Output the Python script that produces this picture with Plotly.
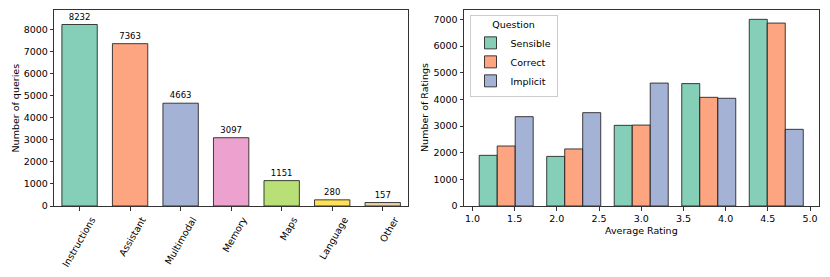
import plotly.graph_objects as go

# ---- data ----
categories = ["Instructions", "Assistant", "Multimodal", "Memory", "Maps", "Language", "Other"]
query_counts = [8232, 7363, 4663, 3097, 1151, 280, 157]

bin_edges = [1.0, 1.8, 2.6, 3.4, 4.2, 5.0]
series_names = ["Sensible", "Correct", "Implicit"]
sensible = [1900, 1860, 3025, 4590, 7000]
correct = [2250, 2140, 3035, 4075, 6860]
implicit = [3350, 3500, 4610, 4040, 2875]

set2 = ["#66c2a5", "#fc8d62", "#8da0cb", "#e78ac3", "#a6d854", "#ffd92f", "#e5c494", "#b3b3b3"]


def rgba(hexc, a=0.8):
    h = hexc.lstrip("#")
    r, g, b = int(h[0:2], 16), int(h[2:4], 16), int(h[4:6], 16)
    return f"rgba({r},{g},{b},{a})"


W, H = 830, 277
OFF = 8  # page body margin


def PX(px):
    return (px - OFF) / W


def PY(py):
    return (H - (py - OFF)) / H


FONT = "DejaVu Sans"
EDGE = "rgba(30,30,30,0.85)"
AX = "#333333"

fig = go.Figure()

# left chart
fig.add_trace(go.Bar(
    x=list(range(len(categories))), y=query_counts,
    width=0.7,
    marker=dict(color=[rgba(set2[i]) for i in range(len(categories))],
                line=dict(color=EDGE, width=1)),
    text=[str(v) for v in query_counts], textposition="outside",
    textfont=dict(size=8.5, color="black", family=FONT),
    cliponaxis=False, showlegend=False,
    xaxis="x", yaxis="y",
))

# right chart: dodged histogram
centers = [(bin_edges[i] + bin_edges[i + 1]) / 2 for i in range(len(bin_edges) - 1)]
bw = bin_edges[1] - bin_edges[0]
shrink = 0.8
sub_w = bw * shrink / len(series_names)
for k, (name, vals) in enumerate(zip(series_names, [sensible, correct, implicit])):
    fig.add_trace(go.Bar(
        x=centers, y=vals, name=name,
        width=sub_w, offset=-bw * shrink / 2 + k * sub_w,
        marker=dict(color=rgba(set2[k]), line=dict(color=EDGE, width=1)),
        xaxis="x2", yaxis="y2",
    ))

ydom = [PY(206), PY(10)]
axis_common = dict(showline=True, linecolor=AX, linewidth=1, mirror=True,
                   ticks="outside", ticklen=3.5, tickcolor=AX, tickwidth=1,
                   showgrid=False, zeroline=False, automargin=False,
                   tickfont=dict(size=9.5, color="black", family=FONT))

title_font = dict(size=9.5, family=FONT, color="black")

fig.update_layout(
    width=W, height=H,
    margin=dict(l=0, r=0, t=0, b=0, autoexpand=False),
    paper_bgcolor="white", plot_bgcolor="white",
    font=dict(family=FONT, color="black"),
    barmode="overlay",
    xaxis=dict(domain=[PX(54.3), PX(408)], range=[-0.5, 6.5],
               tickvals=list(range(len(categories))), ticktext=categories,
               tickangle=-60, ticklabelshift=12, anchor="y", **axis_common),
    yaxis=dict(domain=ydom, range=[0, 8890], tick0=0, dtick=1000, anchor="x",
               **axis_common),
    xaxis2=dict(domain=[PX(464), PX(819.3)], range=[0.90, 5.11],
                tick0=1.0, dtick=0.5, tickformat=".1f", anchor="y2", **axis_common),
    yaxis2=dict(domain=ydom, range=[0, 7350], tick0=0, dtick=1000, anchor="x2",
                **axis_common),
    legend=dict(
        x=PX(469.5), y=PY(15), xanchor="left", yanchor="top",
        bgcolor="rgba(255,255,255,0.8)", bordercolor="#cccccc", borderwidth=1,
        font=dict(size=9.5, family=FONT, color="black"),
        title=dict(text="Question", side="top center", font=dict(size=9.5, family=FONT)),
        itemwidth=30, tracegroupgap=0,
    ),
    annotations=[
        dict(text="Number of queries", x=PX(14.5), y=PY(108), xref="paper", yref="paper",
             xanchor="center", yanchor="middle",
             textangle=-90, showarrow=False, font=title_font),
        dict(text="Number of Ratings", x=PX(424), y=PY(108), xref="paper", yref="paper",
             xanchor="center", yanchor="middle",
             textangle=-90, showarrow=False, font=title_font),
        dict(text="Average Rating", x=PX(641.5), y=PY(230.5), xref="paper", yref="paper",
             xanchor="center", yanchor="middle",
             showarrow=False, font=title_font),
    ],
)

fig.write_html("out.html")
